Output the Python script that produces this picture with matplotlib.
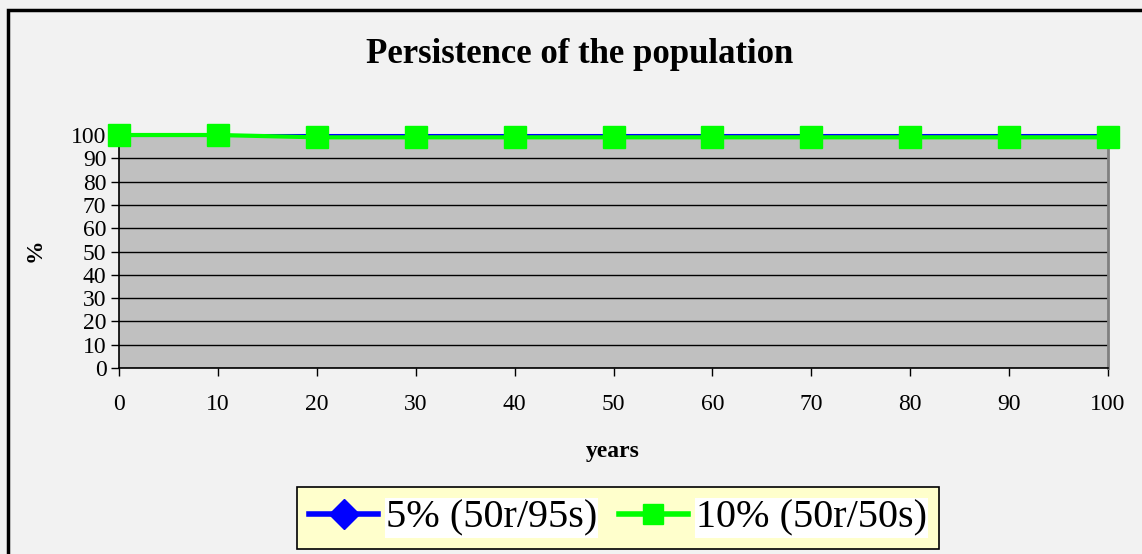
import matplotlib
matplotlib.use("Agg")
import matplotlib.pyplot as plt
from matplotlib.patches import Rectangle

years = [0, 10, 20, 30, 40, 50, 60, 70, 80, 90, 100]
pct_5 = [100, 100, 100, 100, 100, 100, 100, 100, 100, 100, 100]
pct_10 = [100, 100, 99, 99, 99, 99, 99, 99, 99, 99, 99]
labels = ["5% (50r/95s)", "10% (50r/50s)"]
yticks = [0, 10, 20, 30, 40, 50, 60, 70, 80, 90, 100]

plt.rcParams['font.family'] = ['Liberation Serif', 'DejaVu Serif']

W, H = 1142, 554
fig = plt.figure(figsize=(W / 100, H / 100), dpi=100)
fig.patch.set_facecolor("#f2f2f2")

# outer chart frame
fig.patches.append(Rectangle((8 / W, -0.1), 1.2, 1 - 10 / H + 0.1, transform=fig.transFigure,
                             fill=False, edgecolor="black", linewidth=2.5))

ax = fig.add_axes([119 / W, 1 - 368 / H, (1108 - 119) / W, (368 - 135) / H])
ax.set_facecolor("#c0c0c0")

ax.plot(years, pct_5, color="#0000ff", linewidth=2.2, marker="D", markersize=9,
        markerfacecolor="#0000ff", markeredgecolor="#0000ff", label=labels[0], clip_on=False, zorder=3)
ax.plot(years, pct_10, color="#00ff00", linewidth=3, marker="s", markersize=16.5,
        markerfacecolor="#00ff00", markeredgecolor="#00ff00", label=labels[1], clip_on=False, zorder=4)

ax.set_xlim(0, 100)
ax.set_ylim(0, 100)
ax.set_xticks(years)
ax.set_yticks(yticks)
ax.tick_params(axis="both", labelsize=17, length=6, width=1, direction="out", color="black")
ax.tick_params(axis="x", pad=13)
ax.tick_params(axis="y", pad=3)
ax.grid(axis="y", color="black", linewidth=1)
ax.set_axisbelow(True)

ax.spines["top"].set_visible(False)
ax.spines["right"].set_color("#808080")
ax.spines["right"].set_linewidth(2)
ax.spines["left"].set_linewidth(1.2)
ax.spines["bottom"].set_linewidth(1.2)

fig.text(580 / W, 1 - 54 / H, "Persistence of the population", ha="center", va="center",
         fontsize=25, fontweight="bold")
fig.text(613 / W, 1 - 451 / H, "years", ha="center", va="center", fontsize=17, fontweight="bold")
fig.text(35 / W, 1 - 250 / H, "%", ha="center", va="center", fontsize=17, fontweight="bold", rotation=90)

leg = fig.legend(loc="center", bbox_to_anchor=(618 / W, 1 - 518 / H), ncol=2, fontsize=29,
                 frameon=True, fancybox=False, handlelength=1.7, handletextpad=0.2,
                 columnspacing=0.55, borderpad=0.3, borderaxespad=0)
leg.get_frame().set_facecolor("#ffffcc")
leg.get_frame().set_edgecolor("black")
leg.get_frame().set_linewidth(1.2)
leg.get_frame().set_alpha(1)
for t in leg.get_texts():
    t.set_bbox(dict(facecolor="white", edgecolor="none", pad=1))
for h in leg.get_lines():
    h.set_linewidth(4)
    h.set_markersize(15)

fig.savefig("out.png", dpi=100, facecolor=fig.get_facecolor())
